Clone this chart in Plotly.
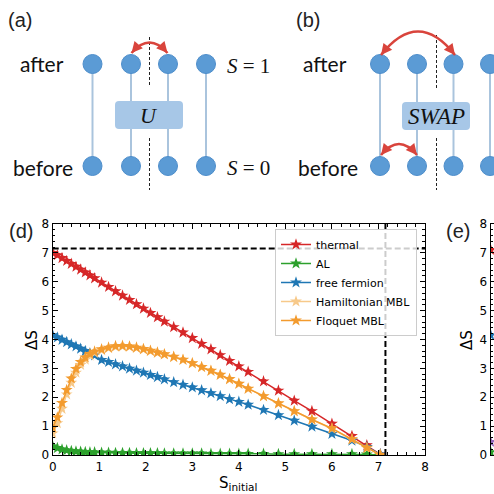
import plotly.graph_objects as go
import math

# ---------------- data for panel (d) ----------------
S_initial = [0.0, 0.1, 0.2, 0.3, 0.4, 0.5, 0.6, 0.7, 0.8, 0.9,
             1.05, 1.2, 1.35, 1.5, 1.65, 1.8, 1.95, 2.1, 2.25, 2.4,
             2.6, 2.8, 3.0, 3.2, 3.4, 3.6, 3.8, 4.0, 4.2,
             4.53, 4.85, 5.19, 5.57, 6.0, 6.43, 6.75, 7.04]
dS_thermal = [7.0, 6.92, 6.82, 6.72, 6.62, 6.52, 6.42, 6.32, 6.22, 6.12,
              5.97, 5.82, 5.67, 5.52, 5.37, 5.22, 5.07, 4.92, 4.77, 4.62,
              4.43, 4.24, 4.05, 3.85, 3.66, 3.46, 3.26, 3.07, 2.88,
              2.55, 2.23, 1.88, 1.52, 1.08, 0.66, 0.34, 0.02]
dS_AL = [0.3, 0.24, 0.19, 0.16, 0.14, 0.12, 0.11, 0.1, 0.09, 0.09,
         0.08, 0.08, 0.07, 0.07, 0.07, 0.06, 0.06, 0.06, 0.06, 0.05,
         0.05, 0.05, 0.05, 0.05, 0.04, 0.04, 0.04, 0.04, 0.04,
         0.04, 0.03, 0.03, 0.03, 0.03, 0.03, 0.02, 0.0]
dS_free = [4.15, 4.07, 3.99, 3.91, 3.83, 3.76, 3.68, 3.6, 3.52, 3.45,
           3.29, 3.22, 3.14, 3.07, 2.99, 2.92, 2.85, 2.77, 2.7, 2.62,
           2.52, 2.43, 2.34, 2.24, 2.14, 2.04, 1.93, 1.84, 1.74,
           1.56, 1.38, 1.19, 0.98, 0.73, 0.5, 0.28, 0.02]
dS_ham = [0.75, 1.1, 1.6, 2.1, 2.5, 2.85, 3.12, 3.3, 3.44, 3.54,
          3.63, 3.7, 3.75, 3.76, 3.75, 3.71, 3.66, 3.6, 3.54, 3.48,
          3.39, 3.29, 3.17, 3.04, 2.91, 2.77, 2.62, 2.46, 2.29,
          2.03, 1.78, 1.51, 1.22, 0.91, 0.54, 0.24, 0.0]
dS_floquet = [0.95, 1.3, 1.8, 2.25, 2.65, 2.98, 3.22, 3.38, 3.5, 3.58,
              3.66, 3.72, 3.77, 3.78, 3.76, 3.72, 3.67, 3.61, 3.55, 3.49,
              3.4, 3.3, 3.18, 3.05, 2.92, 2.78, 2.63, 2.47, 2.3,
              2.04, 1.79, 1.52, 1.23, 0.92, 0.55, 0.25, 0.0]
series_names = ["thermal", "AL", "free fermion", "Hamiltonian MBL", "Floquet MBL"]
series_values = [dS_thermal, dS_AL, dS_free, dS_ham, dS_floquet]
series_colors = ["#d62728", "#2ca02c", "#1f77b4", "#f7c98a", "#f39b2e"]
S_page = 7.15          # maximal entropy (dashed guides)
axis_ticks = [0, 1, 2, 3, 4, 5, 6, 7, 8]

# ---------------- data visible at the left edge of panel (e) ----------------
e_values = [7.1, 4.15, 0.45, 0.1]
e_colors = ["#d62728", "#1f77b4", "#9467bd", "#2ca02c"]

# ---------------- schematic (a), (b) : pixel-like diagram units ----------------
row_names = ["after", "before"]
row_y = [64, 166]
a_sites = [92.5, 131, 168, 206]
b_sites = [380, 417, 453.5, 490]
a_box = [115, 101, 183, 129]
b_box = [402, 102, 470, 130]
a_cut = 149.5
b_cut = 436.5
arcs = [  # start, control, end
    [(131.5, 53), (149.5, 32), (167.5, 53)],
    [(381, 55), (418, 8), (455, 55)],
    [(381, 155), (399, 133), (417, 155)],
]

RED = "#d9443c"
fig = go.Figure()

# ---------- schematic traces (axis x3/y3) ----------
for sites in (a_sites, b_sites):
    for sx in sites:
        fig.add_trace(go.Scatter(x=[sx, sx], y=row_y, mode="lines",
                                 line=dict(color="#aac4dd", width=2),
                                 xaxis="x3", yaxis="y3", showlegend=False, hoverinfo="skip"))
for sites in (a_sites, b_sites):
    for ry in row_y:
        fig.add_trace(go.Scatter(x=sites, y=[ry] * len(sites), mode="markers",
                                 marker=dict(size=19, color="#5b9bd5", line=dict(color="#4e8ecb", width=1)),
                                 xaxis="x3", yaxis="y3", showlegend=False, hoverinfo="skip"))

def rrect(b, r=4):
    x0, y0, x1, y1 = b
    return (f"M {x0+r},{y0} L {x1-r},{y0} Q {x1},{y0} {x1},{y0+r} L {x1},{y1-r} "
            f"Q {x1},{y1} {x1-r},{y1} L {x0+r},{y1} Q {x0},{y1} {x0},{y1-r} "
            f"L {x0},{y0+r} Q {x0},{y0} {x0+r},{y0} Z")

shapes = []
for b in (a_box, b_box):
    shapes.append(dict(type="path", path=rrect(b), xref="x3", yref="y3",
                       fillcolor="#a7c7e7", line=dict(width=0), layer="above"))
for cx, segs in ((a_cut, [(37, 86), (138, 190)]), (b_cut, [(35, 89), (138, 190)])):
    for y0, y1 in segs:
        shapes.append(dict(type="line", x0=cx, x1=cx, y0=y0, y1=y1, xref="x3", yref="y3",
                           line=dict(color="#222222", width=1, dash="3px,2px")))
annotations = []
for p0, c, p1 in arcs:
    shapes.append(dict(type="path", xref="x3", yref="y3",
                       path=f"M {p0[0]},{p0[1]} Q {c[0]},{c[1]} {p1[0]},{p1[1]}",
                       line=dict(color=RED, width=2.5)))
    for p in (p0, p1):
        dx, dy = c[0] - p[0], c[1] - p[1]
        n = math.hypot(dx, dy)
        annotations.append(dict(x=p[0], y=p[1], xref="x3", yref="y3", text="",
                                showarrow=True, ax=dx / n * 7, ay=dy / n * 7,
                                arrowhead=2, arrowsize=1, arrowwidth=2.2, arrowcolor=RED,
                                standoff=0, startstandoff=0))

label_font = dict(family="Liberation Sans, Arial", size=20, color="#222222")
row_font = dict(family="Lato, Open Sans", size=21, color="#111111")
math_font = dict(family="Liberation Serif, DejaVu Serif", size=21, color="#111111")
annotations += [
    dict(x=20, y=20, text="(a)", font=label_font),
    dict(x=308, y=20, text="(b)", font=label_font),
    dict(x=42, y=63, text=row_names[0], font=row_font),
    dict(x=43, y=167, text=row_names[1], font=row_font),
    dict(x=325, y=63, text=row_names[0], font=row_font),
    dict(x=328, y=167, text=row_names[1], font=row_font),
    dict(x=248, y=66, text="<i>S</i> = 1", font=math_font),
    dict(x=248, y=168, text="<i>S</i> = 0", font=math_font),
    dict(x=149, y=115, text="<i>U</i>", font=dict(family="Liberation Serif", size=22, color="#111111")),
    dict(x=436, y=116, text="<i>SWAP</i>", font=dict(family="Liberation Serif", size=23, color="#111111")),
]
for a in annotations[-10:]:
    a.update(xref="x3", yref="y3", showarrow=False, xanchor="center", yanchor="middle")

# ---------- panel (d) ----------
for name, vals, col in zip(series_names, series_values, series_colors):
    fig.add_trace(go.Scatter(
        x=S_initial, y=vals, name=name, mode="lines+markers",
        line=dict(color=col, width=1.5),
        marker=dict(symbol="star", size=9, color=col, line=dict(width=0)),
        error_y=dict(type="constant", value=0.06, color=col, thickness=1, width=2.5),
        xaxis="x", yaxis="y"))

shapes += [
    dict(type="line", xref="x", yref="y", x0=0, x1=8, y0=S_page, y1=S_page,
         line=dict(color="black", width=2, dash="6px,3px")),
    dict(type="line", xref="x", yref="y", x0=S_page, x1=S_page, y0=0, y1=8,
         line=dict(color="black", width=2, dash="6px,3px")),
]

# ---------- panel (e) (cut at the figure edge) ----------
fig.add_trace(go.Scatter(x=[0] * len(e_values), y=e_values, mode="markers",
                         marker=dict(symbol="star", size=9, color=e_colors),
                         xaxis="x2", yaxis="y2", showlegend=False, hoverinfo="skip"))

W = 494
def px(v):
    return v / W
def py(v):
    return 1 - v / W

tickfont = dict(family="DejaVu Sans", size=12, color="black")
common = dict(showline=True, linecolor="black", linewidth=1.2, ticks="inside", ticklen=5,
              tickwidth=1, tickcolor="black", showgrid=False, zeroline=False,
              tickfont=tickfont, fixedrange=True, automargin=False)
minor = dict(ticks="inside", ticklen=2.5, dtick=0.2, tickcolor="black", showgrid=False)

fig.update_layout(
    width=494, height=494, margin=dict(l=0, r=0, t=0, b=0, pad=0),
    paper_bgcolor="white", plot_bgcolor="white",
    xaxis=dict(domain=[px(52.7), px(425)], range=[0, 8], tickvals=axis_ticks,
               mirror="ticks", anchor="y", minor=minor, **common),
    yaxis=dict(domain=[py(455), py(224)], range=[0, 8], tickvals=axis_ticks,
               mirror="ticks", anchor="x", minor=minor, **common),
    xaxis2=dict(domain=[px(490.7), 1], range=[0, 0.07], tickvals=[0],
                mirror=True, anchor="y2", **common),
    yaxis2=dict(domain=[py(455), py(224)], range=[0, 8], tickvals=axis_ticks,
                mirror=False, anchor="x2", minor=minor, **common),
    xaxis3=dict(domain=[0, 1], range=[0, 494], visible=False, fixedrange=True, automargin=False),
    yaxis3=dict(domain=[py(205), 1], range=[205, 0], visible=False, fixedrange=True, automargin=False),
    legend=dict(x=px(275), y=py(229), xanchor="left", yanchor="top",
                bgcolor="rgba(255,255,255,0.8)", bordercolor="#cccccc", borderwidth=1,
                font=dict(family="DejaVu Sans", size=11, color="black"),
                tracegroupgap=0),
    shapes=shapes,
    showlegend=True,
)

paper_notes = [
    dict(x=px(20.7), y=py(231), text="(d)", font=label_font),
    dict(x=px(458), y=py(231), text="(e)", font=label_font),
    dict(x=px(32), y=py(340), text="ΔS", textangle=-90,
         font=dict(family="DejaVu Sans", size=15, color="black")),
    dict(x=px(467), y=py(340), text="ΔS", textangle=-90,
         font=dict(family="DejaVu Sans", size=15, color="black")),
    dict(x=px(238), y=py(483), text="S<sub>initial</sub>",
         font=dict(family="DejaVu Sans", size=15, color="black")),
]
for a in paper_notes:
    a.update(xref="paper", yref="paper", showarrow=False, xanchor="center", yanchor="middle")
annotations += paper_notes
fig.update_layout(annotations=annotations)

fig.write_html("out.html", config={"displayModeBar": False},
               post_script="document.body.style.margin='0';document.body.style.overflow='hidden';")
